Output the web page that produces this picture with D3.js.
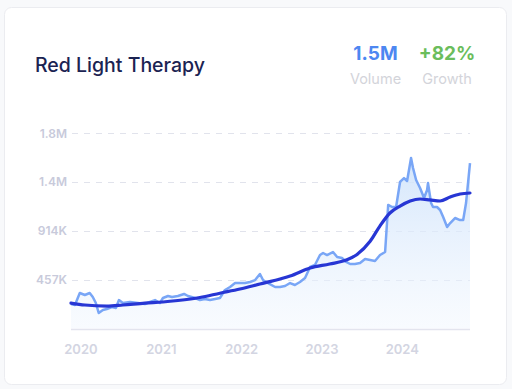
<!DOCTYPE html>
<html lang="en">
<head>
    <meta charset="UTF-8">
    <title>Red Light Therapy</title>
    <script src="https://d3js.org/d3.v7.min.js"></script>
    <style>
        body {
            margin: 0;
            background: #f8f9fb;
            font-family: Inter, "Noto Sans", sans-serif;
        }
        svg { display: block; }
    </style>
</head>
<body>
<div id="chart"></div>
<script>
    // search volume (thousands)
    const dates = [
        "2019-11-17", "2019-12-05", "2019-12-27", "2020-01-19", "2020-02-10", "2020-02-24",
        "2020-03-09", "2020-03-22", "2020-04-10", "2020-04-28", "2020-05-21", "2020-06-08",
        "2020-06-22", "2020-07-10", "2020-08-11", "2020-09-16", "2020-10-18", "2020-11-10",
        "2020-12-03", "2020-12-25", "2021-01-08", "2021-01-31", "2021-02-18", "2021-03-17",
        "2021-04-14", "2021-05-02", "2021-06-03", "2021-06-25", "2021-07-18", "2021-08-10",
        "2021-09-02", "2021-09-24", "2021-10-17", "2021-11-09", "2021-12-02", "2021-12-24",
        "2022-01-16", "2022-02-08", "2022-03-03", "2022-03-25", "2022-04-08", "2022-05-01",
        "2022-06-02", "2022-06-24", "2022-07-17", "2022-08-09", "2022-08-31", "2022-09-23",
        "2022-10-16", "2022-11-08", "2022-11-30", "2022-12-23", "2023-01-06", "2023-01-24",
        "2023-02-20", "2023-03-11", "2023-04-02", "2023-04-21", "2023-05-09", "2023-05-31",
        "2023-06-23", "2023-07-16", "2023-08-08", "2023-08-30", "2023-09-22", "2023-10-15",
        "2023-10-29", "2023-11-16", "2023-12-04", "2023-12-22", "2024-01-09", "2024-01-23",
        "2024-02-10", "2024-02-19", "2024-03-04", "2024-03-22", "2024-04-09", "2024-04-23",
        "2024-04-27", "2024-05-11", "2024-05-20", "2024-06-07", "2024-06-21", "2024-07-05",
        "2024-07-23", "2024-08-06", "2024-08-28", "2024-09-20", "2024-10-04", "2024-10-17",
        "2024-11-04"
    ];
    const volume = [
        229, 220, 332, 313, 332, 295,
        238, 145, 173, 182, 201, 192,
        266, 238, 248, 238, 229, 248,
        266, 238, 285, 304, 295, 304,
        323, 304, 285, 266, 276, 266,
        276, 285, 360, 388, 425, 425,
        425, 435, 453, 510, 453, 425,
        388, 388, 397, 425, 407, 435,
        472, 575, 594, 687, 706, 687,
        715, 669, 659, 622, 603, 603,
        612, 650, 640, 631, 687, 715,
        1155, 1136, 1136, 1370, 1407, 1379,
        1594, 1501, 1388, 1314, 1220, 1295,
        1360, 1173, 1136, 1136, 1108, 1043,
        949, 986, 1033, 1014, 1014, 1173,
        1547
    ];

    // smoothed trend (thousands)
    const trendDates = [
        "2019-11-17", "2020-01-19", "2020-04-28", "2020-07-10", "2020-10-18", "2021-01-08",
        "2021-03-17", "2021-06-25", "2021-09-24", "2021-12-24", "2022-03-25", "2022-06-24",
        "2022-08-09", "2022-11-08", "2023-02-05", "2023-04-21", "2023-06-08", "2023-08-08",
        "2023-09-22", "2023-11-06", "2023-12-22", "2024-02-06", "2024-03-22", "2024-05-06",
        "2024-06-21", "2024-08-06", "2024-09-20", "2024-11-04"
    ];
    const trend = [
        238, 220, 210, 220, 238, 248,
        262, 290, 330, 369, 416, 463,
        491, 566, 603, 640, 690, 815,
        960, 1080, 1145, 1192, 1211, 1202,
        1192, 1230, 1258, 1267
    ];

    const yTicks = [457, 914, 1371, 1828];
    const yTickLabels = ["457K", "914K", "1.4M", "1.8M"];
    const xTicks = ["2020", "2021", "2022", "2023", "2024"];

    const width = 512, height = 389;
    const parse = d3.timeParse("%Y-%m-%d");
    const raw = dates.map((d, i) => ({ date: parse(d), value: volume[i] }));
    const smooth = trendDates.map((d, i) => ({ date: parse(d), value: trend[i] }));

    const svg = d3.select("#chart").append("svg")
        .attr("width", width)
        .attr("height", height);

    // card
    svg.append("rect")
        .attr("x", 4.5).attr("y", 7.5)
        .attr("width", 502).attr("height", 377)
        .attr("rx", 7)
        .attr("fill", "#fff")
        .attr("stroke", "#ebecf0");

    // header
    svg.append("text")
        .attr("x", 35).attr("y", 71.5)
        .attr("font-size", 19.5).attr("font-weight", 500)
        .attr("fill", "#1b2352")
        .text("Red Light Therapy");

    const stats = [
        { value: "1.5M", label: "Volume", x: 375.5, color: "#4d87f1" },
        { value: "+82%", label: "Growth", x: 447, color: "#6bbd5c" }
    ];
    stats.forEach(s => {
        svg.append("text")
            .attr("x", s.x).attr("y", 60)
            .attr("text-anchor", "middle")
            .attr("font-size", 19).attr("font-weight", 700)
            .attr("fill", s.color)
            .text(s.value);
        svg.append("text")
            .attr("x", s.x).attr("y", 84)
            .attr("text-anchor", "middle")
            .attr("font-size", 14.5)
            .attr("fill", "#d3d4da")
            .text(s.label);
    });

    // scales
    const x = d3.scaleTime()
        .domain([parse("2019-11-17"), parse("2024-11-04")])
        .range([71, 470]);
    const y = d3.scaleLinear()
        .domain([0, 1828])
        .range([328.5, 133]);

    // grid
    svg.append("g")
        .selectAll("line")
        .data(yTicks)
        .join("line")
        .attr("x1", 72).attr("x2", 470)
        .attr("y1", d => Math.round(y(d)) + 0.5)
        .attr("y2", d => Math.round(y(d)) + 0.5)
        .attr("stroke", "#e1e3ec")
        .attr("stroke-width", 1.2)
        .attr("stroke-dasharray", "6,6");

    svg.append("g")
        .selectAll("text")
        .data(yTicks)
        .join("text")
        .attr("x", 67)
        .attr("y", d => y(d) + 4.5)
        .attr("text-anchor", "end")
        .attr("font-size", 12).attr("font-weight", 600)
        .attr("fill", "#c8cadb")
        .text((d, i) => yTickLabels[i]);

    // area gradient
    const defs = svg.append("defs");
    const grad = defs.append("linearGradient")
        .attr("id", "fillGrad")
        .attr("x1", 0).attr("y1", 0).attr("x2", 0).attr("y2", 1);
    grad.append("stop").attr("offset", "0%").attr("stop-color", "#cfe3fb").attr("stop-opacity", 0.9);
    grad.append("stop").attr("offset", "100%").attr("stop-color", "#eef5fe").attr("stop-opacity", 0.4);

    svg.append("path")
        .datum(raw)
        .attr("fill", "url(#fillGrad)")
        .attr("d", d3.area()
            .x(d => x(d.date))
            .y0(y(0))
            .y1(d => y(d.value)));

    // x axis baseline
    svg.append("line")
        .attr("x1", 71).attr("x2", 470)
        .attr("y1", 329.5).attr("y2", 329.5)
        .attr("stroke", "#e3e4ee")
        .attr("stroke-width", 1.5);

    svg.append("g")
        .selectAll("text")
        .data(xTicks)
        .join("text")
        .attr("x", d => x(parse(d + "-01-01")))
        .attr("y", 354)
        .attr("text-anchor", "middle")
        .attr("font-size", 13).attr("font-weight", 600)
        .attr("fill", "#d3d5e2")
        .text(d => d);

    // raw line
    svg.append("path")
        .datum(raw)
        .attr("fill", "none")
        .attr("stroke", "#79a6f6")
        .attr("stroke-width", 2.5)
        .attr("stroke-linejoin", "round")
        .attr("d", d3.line()
            .x(d => x(d.date))
            .y(d => y(d.value)));

    // trend line
    svg.append("path")
        .datum(smooth)
        .attr("fill", "none")
        .attr("stroke", "#2736d4")
        .attr("stroke-width", 3.2)
        .attr("stroke-linecap", "round")
        .attr("d", d3.line()
            .curve(d3.curveMonotoneX)
            .x(d => x(d.date))
            .y(d => y(d.value)));
</script>
</body>
</html>
